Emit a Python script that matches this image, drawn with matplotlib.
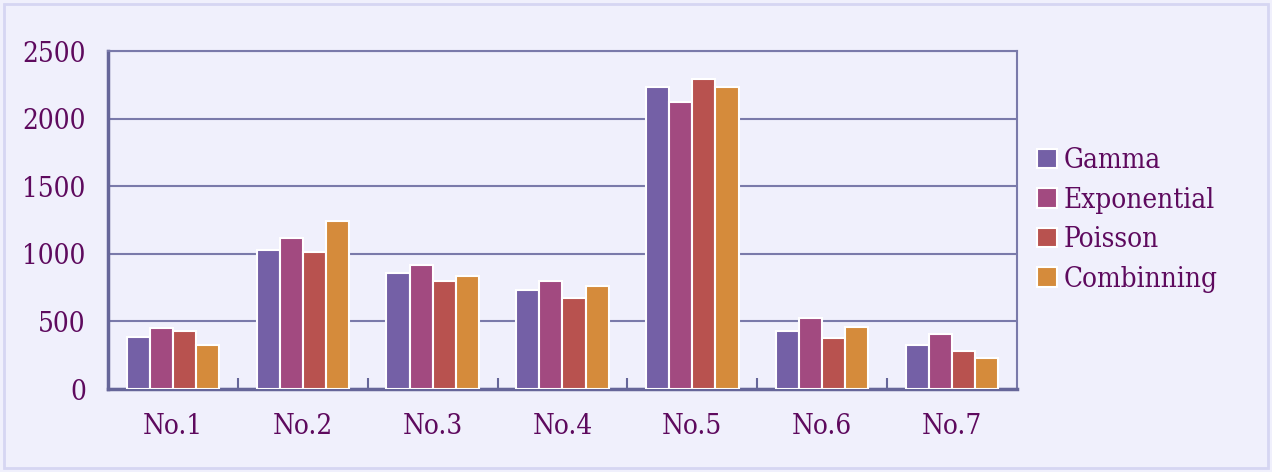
import numpy as np
import matplotlib.pyplot as plt
from matplotlib.patches import Rectangle

categories = ["No.1", "No.2", "No.3", "No.4", "No.5", "No.6", "No.7"]
series_names = ["Gamma", "Exponential", "Poisson", "Combinning"]
gamma = [385, 1028, 858, 733, 2237, 430, 328]
exponential = [451, 1117, 918, 799, 2126, 525, 407]
poisson = [429, 1014, 799, 673, 2292, 377, 283]
combinning = [326, 1243, 836, 762, 2237, 459, 227]
y_ticks = [0, 500, 1000, 1500, 2000, 2500]

colors = ["#7460A6", "#A24A80", "#B8524F", "#D58B3B"]
bg = "#F0F0FC"
text_color = "#5E0A5E"
line_color = "#7A7AAA"
fprops = {"family": "DejaVu Serif", "stretch": "condensed", "size": 20}

fig = plt.figure(figsize=(12.72, 4.72), dpi=100, facecolor=bg)
fig.patches.append(Rectangle((0.003, 0.008), 0.994, 0.984, transform=fig.transFigure,
                             fill=False, edgecolor="#D6D6F2", linewidth=2))
ax = fig.add_axes([0.0849, 0.1758, 0.7146, 0.716])
ax.set_facecolor(bg)

x = np.arange(len(categories))
width = 0.178
all_series = [gamma, exponential, poisson, combinning]
for i, (name, vals) in enumerate(zip(series_names, all_series)):
    ax.bar(x + (i - 1.5) * width, vals, width, color=colors[i], label=name,
           edgecolor="white", linewidth=1.5, zorder=3)

ax.set_xlim(-0.5, len(categories) - 0.5)
ax.set_ylim(0, 2500)
ax.set_yticks(y_ticks)
ax.set_yticklabels([str(v) for v in y_ticks], color=text_color, **fprops)
ax.set_xticks(x)
ax.set_xticklabels(categories, color=text_color, **fprops)
ax.tick_params(axis="x", length=0, pad=17)
ax.tick_params(axis="y", length=0, pad=16)
ax.set_xticks(np.arange(len(categories) - 1) + 0.5, minor=True)
ax.tick_params(axis="x", which="minor", direction="in", length=8, width=1.5, color="#666699")

ax.yaxis.grid(True, color=line_color, linewidth=1.5, zorder=0)
ax.set_axisbelow(True)
for side in ["top", "right"]:
    ax.spines[side].set_color(line_color)
    ax.spines[side].set_linewidth(1.5)
for side in ["left", "bottom"]:
    ax.spines[side].set_color("#666699")
    ax.spines[side].set_linewidth(2.5)

leg = ax.legend(loc="center left", bbox_to_anchor=(0.995, 0.5), frameon=False,
                prop=fprops, handlelength=0.7, handleheight=0.7,
                handletextpad=0.25, labelspacing=0.45)
for t in leg.get_texts():
    t.set_color(text_color)

fig.savefig("out.png", dpi=100, facecolor=bg)
